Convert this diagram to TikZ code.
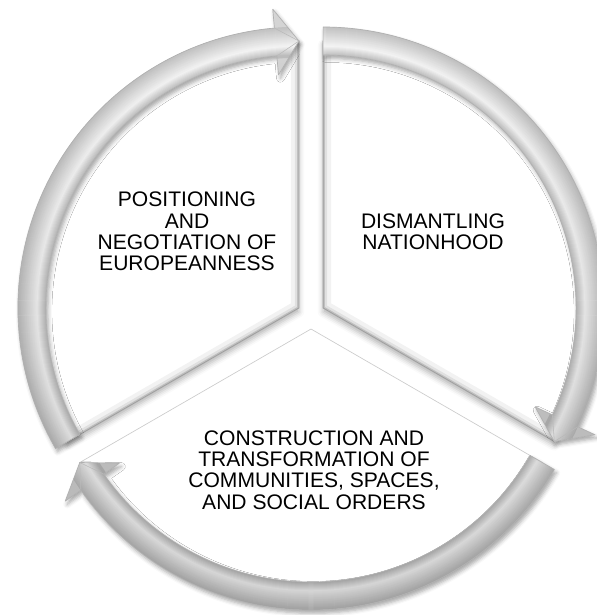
\documentclass[tikz,border=0pt]{standalone}
\usepackage{fontspec}
\setmainfont{Liberation Sans}
\usetikzlibrary{shadows.blur}
\newcommand\cycarrow[2]{(#1:253) arc[start angle=#1, end angle={#2+5}, radius=253] -- ({#2+5}:234) -- (#2:267) -- ({#2+5}:300) -- ({#2+5}:281) arc[start angle={#2+5}, end angle=#1, radius=281] -- cycle}
\newcommand\cycsector[2]{(0,0) -- (#1:267) arc[start angle=#1, end angle=#2, radius=267] -- cycle}
\newcommand\drawcycarrow[3]{%
  \begin{scope}[shift={(#1)}]
    \fill[white, blur shadow={shadow xshift=1.5pt, shadow yshift=-2.5pt, shadow blur radius=3pt, shadow opacity=35}] \cycarrow{#2}{#3};
    \begin{scope}
      \clip \cycarrow{#2}{#3};
      \foreach \r in {232,...,302}{%
        \pgfmathtruncatemacro\cc{\r<251 ? 38 : (\r<254 ? 58 : (\r<=262 ? 58-(\r-253)*50/9 : (\r<=281 ? 8+(\r-262)*47/19 : 38)))}%
        \draw[color=gray!\cc, line width=1.1pt] (0,0) circle (\r);
      }
      \shade[top color=white, bottom color=black, opacity=.14] (-310,-310) rectangle (310,310);
    \end{scope}
    \draw[arrowedge] \cycarrow{#2}{#3};
    \draw[ridge] ({#3+5}:253) -- (#3:267) -- ({#3+5}:281);
  \end{scope}}
\newcommand\drawcycsector[3]{%
  \begin{scope}[shift={(#1)}]
    \fill[white, blur shadow={shadow xshift=0pt, shadow yshift=-3pt, shadow blur radius=4pt, shadow opacity=30}] \cycsector{#2}{#3};
    \begin{scope}
      \clip \cycsector{#2}{#3};
      \draw[black, opacity=.05, line width=12pt] \cycsector{#2}{#3};
      \draw[black, opacity=.07, line width=6pt] \cycsector{#2}{#3};
      \draw[black, opacity=.14, line width=2.5pt] \cycsector{#2}{#3};
    \end{scope}
    \draw[gray!75, line width=.6pt] \cycsector{#2}{#3};
  \end{scope}}
\begin{document}
\begin{tikzpicture}[x=0.75pt, y=0.75pt,
  lbl/.style={align=center, font=\fontsize{15.8}{16}\selectfont, text=black, inner sep=0pt},
  arrowedge/.style={draw=gray!62, line width=0.5pt, line join=round},
  ridge/.style={draw=gray!55, line width=0.4pt},
  flatsector/.style={fill=white, draw=gray!40, line width=0.5pt}]
\useasboundingbox (0,0) rectangle (597,615);
\coordinate (LC) at (298.9,307);
\coordinate (RC) at (323.1,307);
\coordinate (BC) at (311,286);
% bottom sector (flat)
\begin{scope}[shift={(BC)}]
  \path[flatsector] \cycsector{330}{210};
\end{scope}
% left and right sectors (bevelled)
\drawcycsector{LC}{210}{90}
\drawcycsector{RC}{90}{-30}
% cycle arrows
\drawcycarrow{BC}{330}{210}
\drawcycarrow{LC}{210}{90}
\drawcycarrow{RC}{90}{-30}
% labels
\node[lbl] (t1) at (187,383.5) {POSITIONING\\AND\\NEGOTIATION OF\\EUROPEANNESS};
\node[lbl] (t2) at (433,383.5) {DISMANTLING\\NATIONHOOD};
\node[lbl] (t3) at (314,145) {CONSTRUCTION AND\\TRANSFORMATION OF\\COMMUNITIES, SPACES,\\AND SOCIAL ORDERS};
\end{tikzpicture}
\end{document}
